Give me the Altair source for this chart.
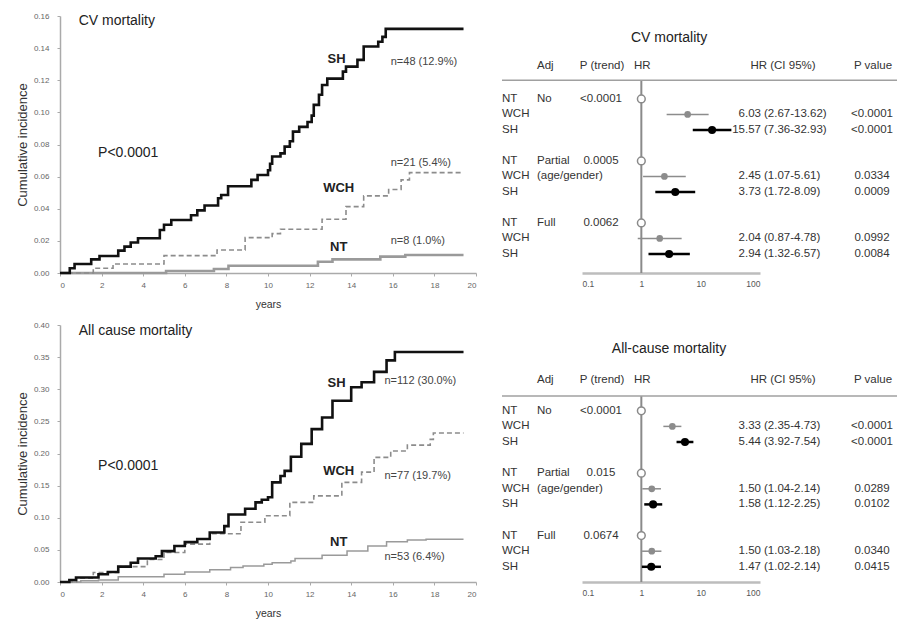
import altair as alt
import pandas as pd

FONT = "Liberation Sans"
TXT = "#333333"

# ---------------- Kaplan-Meier data: years / cumulative incidence ----------------
CV_SH_T = [0, 0.47, 0.7, 1.5, 1.9, 2.8, 3.1, 3.4, 3.75, 4.8, 5.0, 5.35, 6.3, 6.6, 6.95, 7.6, 7.75, 8.08, 9.2, 9.5,
           10.0, 10.1, 10.2, 10.6, 10.8, 11.05, 11.2, 11.5, 11.9, 12.1, 12.2, 12.45, 12.6, 12.85, 13.6, 13.75, 14.3,
           14.6, 15.3, 15.5, 15.66, 19.4]
CV_SH_V = [0, 0.003, 0.0056, 0.0085, 0.0106, 0.0139, 0.0164, 0.019, 0.0216, 0.0268, 0.030, 0.033, 0.036, 0.039,
           0.042, 0.0465, 0.0486, 0.054, 0.058, 0.061, 0.064, 0.068, 0.0725, 0.0745, 0.0787, 0.082, 0.088, 0.091,
           0.094, 0.098, 0.1047, 0.111, 0.117, 0.121, 0.1254, 0.1285, 0.1327, 0.141, 0.144, 0.147, 0.152, 0.152]
CV_WCH_T = [0, 1.6, 2.55, 5.0, 7.55, 8.9, 10.2, 10.6, 12.6, 13.75, 14.6, 15.8, 16.4, 16.8, 19.4]
CV_WCH_V = [0, 0.003, 0.0056, 0.0108, 0.0143, 0.022, 0.0245, 0.0272, 0.0335, 0.0413, 0.048, 0.052, 0.058, 0.0625,
            0.0625]
CV_NT_T = [0, 5.1, 7.4, 8.1, 12.4, 13.1, 15.4, 16.6, 19.4]
CV_NT_V = [0, 0.0012, 0.0025, 0.0045, 0.007, 0.0085, 0.0102, 0.0112, 0.0112]

AC_SH_T = [0, 0.45, 0.77, 1.85, 2.3, 2.8, 3.4, 3.75, 4.6, 4.9, 5.5, 6.0, 6.6, 7.2, 7.9, 8.1, 8.9, 9.4, 9.7, 10.0,
           10.2, 10.6, 10.8, 11.1, 11.6, 12.1, 12.6, 13.1, 14.0, 14.5, 15.1, 15.7, 16.1, 19.4]
AC_SH_V = [0, 0.003, 0.007, 0.012, 0.0156, 0.024, 0.030, 0.0365, 0.040, 0.048, 0.056, 0.062, 0.067, 0.077, 0.087,
           0.105, 0.114, 0.124, 0.128, 0.132, 0.155, 0.165, 0.173, 0.195, 0.215, 0.238, 0.256, 0.282, 0.303, 0.311,
           0.327, 0.345, 0.358, 0.358]
AC_WCH_T = [0, 0.8, 1.6, 2.8, 4.2, 5.0, 6.0, 7.2, 8.7, 9.85, 11.05, 12.2, 13.55, 14.5, 15.1, 15.9, 16.7, 17.8,
            17.95, 19.4]
AC_WCH_V = [0, 0.006, 0.0147, 0.024, 0.035, 0.046, 0.059, 0.075, 0.093, 0.103, 0.124, 0.134, 0.155, 0.171, 0.194,
            0.204, 0.213, 0.222, 0.232, 0.232]
AC_NT_T = [0, 1.0, 1.85, 2.8, 5.0, 6.0, 7.2, 8.2, 8.8, 9.8, 10.2, 11.1, 11.3, 12.6, 13.8, 14.8, 15.7, 16.7, 17.6,
           19.4]
AC_NT_V = [0, 0.002, 0.003, 0.008, 0.012, 0.0156, 0.019, 0.0225, 0.025, 0.0276, 0.030, 0.0328, 0.0365, 0.0417,
           0.0484, 0.056, 0.0625, 0.0655, 0.0666, 0.0666]

GROUP_NAMES = ["SH", "WCH", "NT"]
CV_N_TEXT = ["n=48 (12.9%)", "n=21 (5.4%)", "n=8 (1.0%)"]
AC_N_TEXT = ["n=112 (30.0%)", "n=77 (19.7%)", "n=53 (6.4%)"]
# annotation anchors in data units (years, incidence)
CV_NAME_X, CV_NAME_Y = [13.3, 13.4, 13.4], [0.133, 0.053, 0.0162]
CV_N_X, CV_N_Y = [15.9, 15.9, 15.9], [0.1315, 0.0685, 0.020]
AC_NAME_X, AC_NAME_Y = [13.3, 13.4, 13.4], [0.31, 0.173, 0.062]
AC_N_X, AC_N_Y = [15.6, 15.6, 15.6], [0.313, 0.165, 0.0385]

# ---------------- Forest plot data ----------------
ROW_GROUP = ["NT", "WCH", "SH"] * 3
ROW_ADJ = ["No", "", "", "Partial", "(age/gender)", "", "Full", "", ""]
ROW_POS = [0, 1, 2, 4, 5, 6, 8, 9, 10]

CV_PTREND = ["<0.0001", "0.0005", "0.0062"]
CV_HR = [1, 6.03, 15.57, 1, 2.45, 3.73, 1, 2.04, 2.94]
CV_LO = [None, 2.67, 7.36, None, 1.07, 1.72, None, 0.87, 1.32]
CV_HI = [None, 13.62, 32.93, None, 5.61, 8.09, None, 4.78, 6.57]
CV_P = ["", "<0.0001", "<0.0001", "", "0.0334", "0.0009", "", "0.0992", "0.0084"]

AC_PTREND = ["<0.0001", "0.015", "0.0674"]
AC_HR = [1, 3.33, 5.44, 1, 1.50, 1.58, 1, 1.50, 1.47]
AC_LO = [None, 2.35, 3.92, None, 1.04, 1.12, None, 1.03, 1.02]
AC_HI = [None, 4.73, 7.54, None, 2.14, 2.25, None, 2.18, 2.14]
AC_P = ["", "<0.0001", "<0.0001", "", "0.0289", "0.0102", "", "0.0340", "0.0415"]

KM_W, KM_H = 416, 257
FP_W, FP_H = 395, 257

LINE_STYLE = {
    "SH": dict(color="#111111", strokeWidth=2.6),
    "WCH": dict(color="#8c8c8c", strokeWidth=1.6, strokeDash=[5, 3]),
    "NT": dict(color="#9a9a9a", strokeWidth=2.0),
}


def km_panel(series, ymax, ystep, title, ptext_pos, title_pos, names_xy, n_xy, n_texts, nt_width):
    xs = alt.Scale(domain=[0, 20], nice=False, zero=False)
    ys = alt.Scale(domain=[0, ymax], nice=False, zero=True)
    nticks = int(round(ymax / ystep))
    xaxis = alt.Axis(values=list(range(0, 21, 2)), format="d", title="years", grid=False,
                     labelFontSize=8, labelColor="#666", tickSize=3, tickColor="#aaa",
                     domainColor="#aaa", domainWidth=1.5, labelPadding=5, labelOverlap=False,
                     titleFontSize=10.5, titleFontWeight="normal", titleColor=TXT, titlePadding=10)
    yaxis = alt.Axis(values=[round(i * ystep, 3) for i in range(nticks + 1)], format=".2f",
                     title="Cumulative incidence", grid=False, labelFontSize=8, labelColor="#666",
                     tickSize=3, tickColor="#aaa", domainColor="#aaa", domainWidth=1.5, labelPadding=8,
                     labelOverlap=False,
                     titleFontSize=13, titleFontWeight="normal", titleColor=TXT, titlePadding=4)
    layers = []
    for name, t, v in series:
        style = dict(LINE_STYLE[name])
        if name == "NT":
            style["strokeWidth"] = nt_width
        df = pd.DataFrame({"t": t, "v": v})
        layers.append(alt.Chart(df).mark_line(interpolate="step-after", **style).encode(
            x=alt.X("t:Q", scale=xs, axis=xaxis),
            y=alt.Y("v:Q", scale=ys, axis=yaxis)))
    X = alt.X("x:Q", scale=xs, axis=xaxis)
    Yv = alt.Y("y:Q", scale=ys, axis=yaxis)
    names_df = pd.DataFrame({"x": names_xy[0], "y": names_xy[1], "text": GROUP_NAMES})
    layers.append(alt.Chart(names_df).mark_text(fontSize=13, fontWeight="bold", color="#222",
                                                align="center", baseline="middle").encode(
        x=X, y=Yv, text="text:N"))
    n_df = pd.DataFrame({"x": n_xy[0], "y": n_xy[1], "text": n_texts})
    layers.append(alt.Chart(n_df).mark_text(fontSize=11, color="#444", align="left",
                                            baseline="middle").encode(
        x=X, y=Yv, text="text:N"))
    big_df = pd.DataFrame({"x": [title_pos[0], ptext_pos[0]], "y": [title_pos[1], ptext_pos[1]],
                           "text": [title, "P<0.0001"]})
    layers.append(alt.Chart(big_df).mark_text(fontSize=14, color="#222", align="left",
                                              baseline="middle").encode(
        x=X, y=Yv, text="text:N"))
    return alt.layer(*layers).properties(width=KM_W, height=KM_H)


def forest_panel(title, hr, lo, hi, pvals, ptrend, lay):
    ys = alt.Scale(domain=[lay["top"], lay["top"] + FP_H / lay["unit"]], reverse=True, nice=False, zero=False)
    xs = alt.Scale(type="log", domain=[0.1, 100], range=[80, 258])
    xaxis = alt.Axis(values=[0.1, 1, 10, 100], format="~g", title=None, grid=False, ticks=False,
                     domainColor="#bdbdbd", domainWidth=2.5, labelFontSize=8.5, labelColor="#555",
                     labelPadding=6, labelOverlap=False)
    ptrend_rows = []
    for i in range(9):
        ptrend_rows.append(ptrend[i // 3] if i % 3 == 0 else "")
    hr_txt = ["" if l is None else f"{h:.2f}" for h, l in zip(hr, lo)]
    ci_txt = ["" if l is None else f"({l:.2f}-{u:.2f})" for l, u in zip(lo, hi)]
    df = pd.DataFrame({"pos": ROW_POS, "group": ROW_GROUP, "adj": ROW_ADJ, "ptrend": ptrend_rows,
                       "hr": hr, "lo": lo, "hi": hi, "hr_txt": hr_txt, "ci_txt": ci_txt, "p": pvals})
    Y = alt.Y("pos:Q", scale=ys, axis=None)
    XS = lambda f: alt.X(f, scale=xs, axis=xaxis)
    base = alt.Chart(df)
    layers = []
    ref = pd.DataFrame({"x": [1], "y": [lay["hline"]], "y2": [lay["top"] + FP_H / lay["unit"]]})
    layers.append(alt.Chart(ref).mark_rule(color="#8a8a8a", strokeWidth=2).encode(
        x=XS("x:Q"), y=alt.Y("y:Q", scale=ys, axis=None), y2="y2:Q"))
    hl = pd.DataFrame({"pos": [lay["hline"]]})
    layers.append(alt.Chart(hl).mark_rule(color="#a0a0a0", strokeWidth=1.5).encode(
        x=alt.value(0), x2=alt.value(FP_W), y=Y))
    for g, col, w in [("WCH", "#8c8c8c", 1.5), ("SH", "#000000", 2.5)]:
        sub = base.transform_filter(f"datum.group == '{g}'")
        layers.append(sub.mark_rule(color=col, strokeWidth=w).encode(
            x=XS("lo:Q"), x2="hi:Q", y=Y))
    layers.append(base.transform_filter("datum.group == 'NT'").mark_point(
        shape="circle", filled=True, fill="white", stroke="#8a8a8a", strokeWidth=1.5, size=60, opacity=1
    ).encode(x=XS("hr:Q"), y=Y))
    layers.append(base.transform_filter("datum.group == 'WCH'").mark_circle(
        color="#8c8c8c", size=45, opacity=1).encode(x=XS("hr:Q"), y=Y))
    layers.append(base.transform_filter("datum.group == 'SH'").mark_circle(
        color="#000000", size=65, opacity=1).encode(x=XS("hr:Q"), y=Y))
    for field, xpos, align in [("group", 0, "left"), ("adj", 35, "left"), ("ptrend", 99, "center"),
                               ("hr_txt", 259, "right"), ("ci_txt", 262, "left"), ("p", 370, "center")]:
        layers.append(base.mark_text(fontSize=11.5, color=TXT, align=align, baseline="middle").encode(
            x=alt.value(xpos), y=Y, text=f"{field}:N"))
    hdr = pd.DataFrame({"pos": [lay["header"]]})
    for text, xpos, align in [("Adj", 35, "left"), ("P (trend)", 100, "center"), ("HR", 132, "left"),
                              ("HR (CI 95%)", 281, "center"), ("P value", 371, "center")]:
        layers.append(alt.Chart(hdr).mark_text(fontSize=11.5, color=TXT, align=align, baseline="middle",
                                               text=text).encode(x=alt.value(xpos), y=Y))
    tdf = pd.DataFrame({"pos": [lay["title"]], "text": [title]})
    layers.append(alt.Chart(tdf).mark_text(fontSize=14, color="#222", align="center",
                                           baseline="middle").encode(x=alt.value(167), y=Y, text="text:N"))
    return alt.layer(*layers).properties(width=FP_W, height=FP_H)


LAY_CV = dict(top=-5.35, unit=15.5, title=-3.9, header=-2.15, hline=-1.2)
LAY_AC = dict(top=-5.5, unit=15.6, title=-3.95, header=-1.95, hline=-0.95)

km_cv = km_panel([("NT", CV_NT_T, CV_NT_V), ("WCH", CV_WCH_T, CV_WCH_V), ("SH", CV_SH_T, CV_SH_V)],
                 0.16, 0.02, "CV mortality", (1.83, 0.075), (0.9, 0.157),
                 (CV_NAME_X, CV_NAME_Y), (CV_N_X, CV_N_Y), CV_N_TEXT, 2.6)
km_ac = km_panel([("NT", AC_NT_T, AC_NT_V), ("WCH", AC_WCH_T, AC_WCH_V), ("SH", AC_SH_T, AC_SH_V)],
                 0.40, 0.05, "All cause mortality", (1.83, 0.181), (0.9, 0.39),
                 (AC_NAME_X, AC_NAME_Y), (AC_N_X, AC_N_Y), AC_N_TEXT, 1.5)
fp_cv = forest_panel("CV mortality", CV_HR, CV_LO, CV_HI, CV_P, CV_PTREND, LAY_CV)
fp_ac = forest_panel("All-cause mortality", AC_HR, AC_LO, AC_HI, AC_P, AC_PTREND, LAY_AC)

chart = alt.vconcat(
    alt.hconcat(km_cv, fp_cv, spacing=24),
    alt.hconcat(km_ac, fp_ac, spacing=24),
    spacing=11,
).properties(
    padding={"left": 8, "top": 4, "right": 5, "bottom": 0},
    background="white",
).configure(font=FONT).configure_view(stroke=None)

chart.save("out.html", embed_options={"renderer": "svg", "actions": False})
